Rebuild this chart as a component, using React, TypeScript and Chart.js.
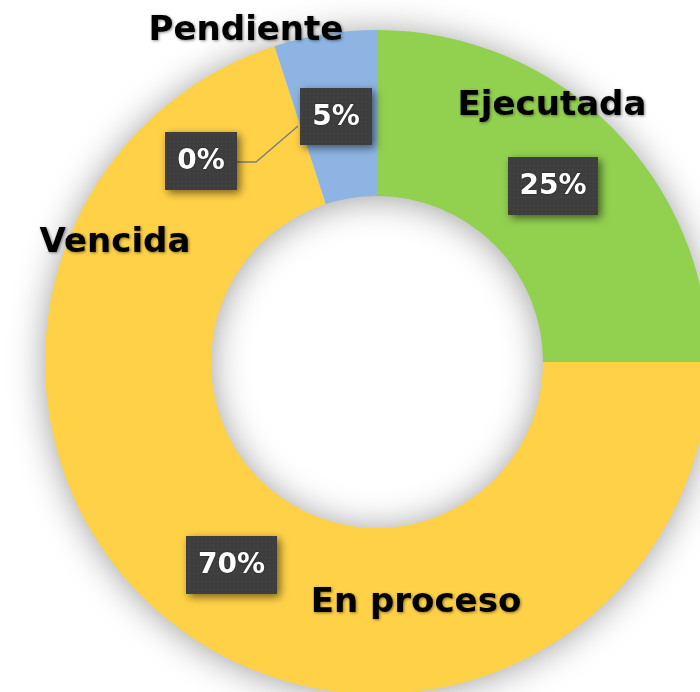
import React, { useEffect, useRef } from "react";
import { Chart, registerables } from "chart.js";

Chart.register(...registerables);

// ---- data ----
const categories = ["Ejecutada", "En proceso", "Vencida", "Pendiente"];
const values = [25, 70, 0, 5];
const sliceColors = ["#92D050", "#FFD147", "#F4B183", "#8DB4E2"];

// ---- layout of the manually placed labels (pixels in the page) ----
const namePos: [number, number][] = [
  [552, 115],
  [416, 612],
  [115, 252],
  [246, 40],
];
const boxPos: [number, number, number, number][] = [
  [508, 157, 90, 58],
  [186, 536, 91, 58],
  [165, 132, 72, 58],
  [300, 88, 72, 57],
];
const leaderLine: [number, number][] = [
  [237, 162],
  [256, 162],
  [298, 126],
];

const W = 760;
const H = 760;

export default function App() {
  const ref = useRef<HTMLCanvasElement | null>(null);

  useEffect(() => {
    document.body.style.margin = "0";
    const canvas = ref.current!;
    const total = values.reduce((a, b) => a + b, 0);
    const pct = values.map((v) => Math.round((v / total) * 100) + "%");

    const pc = document.createElement("canvas");
    pc.width = 4;
    pc.height = 4;
    const pctx = pc.getContext("2d")!;
    pctx.fillStyle = "#3e3e3e";
    pctx.fillRect(0, 0, 4, 4);
    pctx.fillStyle = "#4c4c4c";
    pctx.fillRect(1, 1, 1, 1);

    const decor = {
      id: "decor",
      beforeDatasetsDraw(chart: any) {
        const arc = chart.getDatasetMeta(0).data[0];
        if (!arc) return;
        const { x, y, outerRadius, innerRadius } = arc as any;
        const ctx = chart.ctx as CanvasRenderingContext2D;
        ctx.save();
        ctx.shadowColor = "rgba(0,0,0,0.4)";
        ctx.shadowBlur = 36;
        ctx.shadowOffsetX = 0;
        ctx.shadowOffsetY = 2;
        ctx.fillStyle = "#e8e8e8";
        ctx.beginPath();
        ctx.arc(x, y, outerRadius - 1, 0, Math.PI * 2);
        ctx.arc(x, y, innerRadius + 1, 0, Math.PI * 2, true);
        ctx.fill("evenodd");
        ctx.restore();
      },
      afterDatasetsDraw(chart: any) {
        const ctx = chart.ctx as CanvasRenderingContext2D;
        ctx.save();
        // leader line
        ctx.strokeStyle = "#7f7f7f";
        ctx.lineWidth = 1.5;
        ctx.beginPath();
        leaderLine.forEach(([lx, ly], i) => (i ? ctx.lineTo(lx, ly) : ctx.moveTo(lx, ly)));
        ctx.stroke();

        const pattern = ctx.createPattern(pc, "repeat")!;
        // boxes
        boxPos.forEach(([bx, by, bw, bh], i) => {
          ctx.save();
          ctx.shadowColor = "rgba(0,0,0,0.55)";
          ctx.shadowBlur = 8;
          ctx.shadowOffsetX = 3;
          ctx.shadowOffsetY = 3;
          ctx.fillStyle = pattern;
          ctx.fillRect(bx, by, bw, bh);
          ctx.restore();
          ctx.save();
          ctx.fillStyle = "#ffffff";
          ctx.font = "bold 28px 'DejaVu Sans'";
          ctx.textAlign = "center";
          ctx.textBaseline = "middle";
          ctx.shadowColor = "rgba(0,0,0,0.6)";
          ctx.shadowBlur = 2;
          ctx.fillText(pct[i], bx + bw / 2, by + bh / 2 + 1);
          ctx.restore();
        });

        // category names
        ctx.fillStyle = "#000000";
        ctx.font = "bold 34px 'DejaVu Sans'";
        ctx.textAlign = "center";
        ctx.textBaseline = "alphabetic";
        ctx.shadowColor = "rgba(0,0,0,0.45)";
        ctx.shadowBlur = 3;
        ctx.shadowOffsetX = 1;
        ctx.shadowOffsetY = 1;
        categories.forEach((c, i) => {
          const [nx, ny] = namePos[i];
          ctx.fillText(c, nx, ny);
        });
        ctx.restore();
      },
    };

    const chart = new Chart(canvas, {
      type: "doughnut",
      data: {
        labels: categories,
        datasets: [
          {
            data: values,
            backgroundColor: sliceColors,
            borderWidth: 0,
          },
        ],
      },
      options: {
        responsive: false,
        animation: false,
        cutout: "50%",
        rotation: 0,
        layout: { padding: { left: 45, top: 30, right: W - 709, bottom: H - 694 } },
        plugins: {
          legend: { display: false },
          tooltip: { enabled: false },
        },
      },
      plugins: [decor],
    });
    return () => chart.destroy();
  }, []);

  return (
    <div
      style={{
        position: "fixed",
        left: 0,
        top: 0,
        width: 700,
        height: 692,
        overflow: "hidden",
        background: "#ffffff",
      }}
    >
      <canvas ref={ref} width={W} height={H} style={{ width: W, height: H, display: "block" }} />
    </div>
  );
}
